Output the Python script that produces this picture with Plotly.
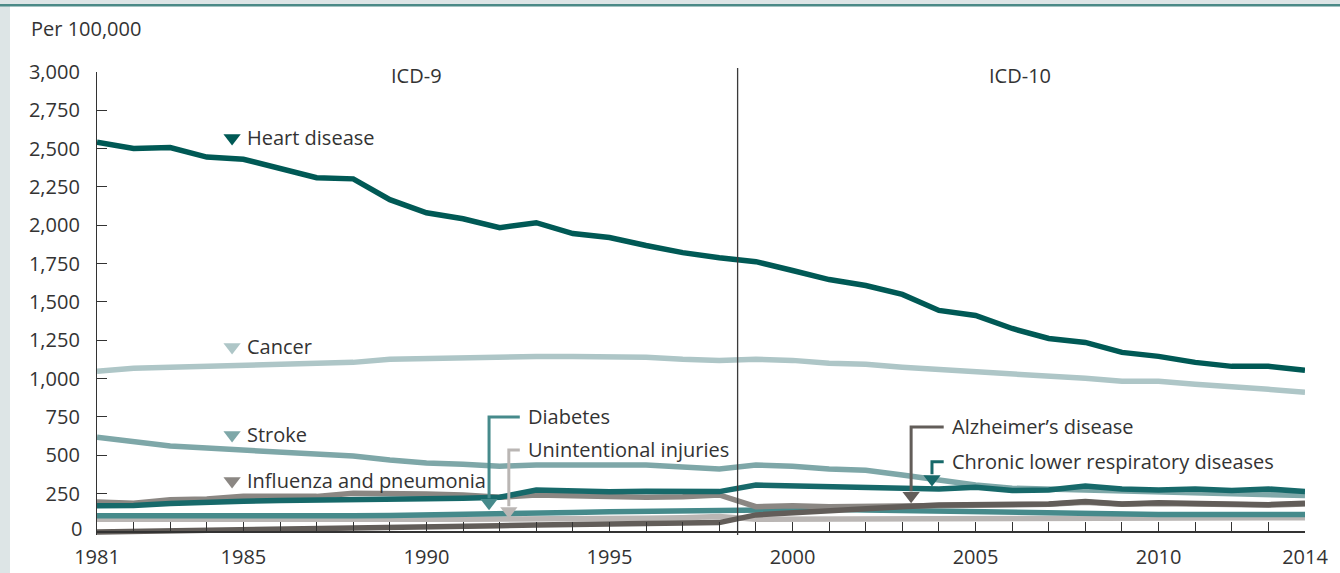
import plotly.graph_objects as go

# ---------------- data (per 100,000, ages 65+) ----------------
years = list(range(1981, 2015))

heart_disease = [2542, 2501, 2507, 2445, 2431, 2369, 2310, 2303, 2167, 2082,
                 2043, 1985, 2017, 1946, 1920, 1868, 1822, 1789, 1763, 1705,
                 1646, 1607, 1549, 1445, 1412, 1327, 1262, 1236, 1171, 1145,
                 1106, 1080, 1080, 1054]
cancer = [1048, 1067, 1074, 1080, 1087, 1100, 1100, 1106, 1126, 1132,
          1139, 1139, 1145, 1145, 1145, 1139, 1126, 1119, 1126, 1119,
          1100, 1093, 1074, 1061, 1048, 1028, 1015, 1002, 983, 983,
          963, 950, 930, 911]
stroke = [618, 586, 560, 547, 534, 514, 501, 495, 469, 449,
          442, 429, 436, 436, 442, 436, 423, 410, 436, 429,
          410, 403, 372, 339, 306, 285, 280, 275, 263, 258,
          252, 247, 241, 237]
clrd = [171, 172, 185, 195, 200, 205, 210, 215, 215, 216,
        220, 226, 274, 268, 262, 266, 268, 263, 306, 302,
        296, 296, 291, 280, 291, 270, 274, 300, 280, 274,
        280, 270, 280, 263]
influenza = [196, 187, 210, 215, 232, 236, 232, 252, 245, 247,
             241, 226, 241, 236, 226, 226, 230, 241, 165, 170,
             165, 168, 170, 172, 176, 178, 180, 193, 180, 186,
             183, 180, 175, 183]
alzheimers = [0, 3, 6, 10, 14, 18, 22, 26, 29, 32,
              36, 41, 46, 48, 51, 54, 57, 61, 111, 126,
              133, 148, 165, 176, 180, 180, 183, 198, 183, 191,
              187, 183, 178, 187]
diabetes = [105, 104, 104, 104, 105, 105, 105, 106, 108, 110,
            112, 115, 120, 126, 131, 133, 136, 139, 143, 148,
            148, 143, 139, 137, 130, 122, 120, 118, 116, 114,
            114, 114, 114, 114]
unintentional = [83, 82, 82, 82, 82, 82, 82, 83, 83, 83,
                 83, 83, 84, 86, 89, 90, 93, 100, 83, 84,
                 85, 86, 87, 88, 89, 89, 90, 90, 90, 91,
                 92, 92, 93, 93]

x_tick_labels = ["1981", "1985", "1990", "1995", "2000", "2005", "2010", "2014"]
y_tick_values = list(range(0, 3001, 250))

ICD_BREAK = 1998.5

# ---------------- styling ----------------
FONT = "Open Sans"
TXT = "#333333"
FS = 20

C_HEART = "#005955"
C_CANCER = "#aec6c7"
C_STROKE = "#7ea7a8"
C_CLRD = "#17696a"
C_INFL = "#8b8783"
C_ALZ = "#625d59"
C_DIAB = "#468a8b"
C_UNINT = "#bab6b4"

W, H = 1340, 573
ML, MR, MT, MB = 97, 35, 72, 38
Y_MIN, Y_MAX = -20, 3000


def px_x(px):
    return (px - ML) / (W - ML - MR)


def px_y(py):
    return (H - MB - py) / (H - MT - MB)


fig = go.Figure()

series = [
    ("Unintentional injuries", unintentional, C_UNINT),
    ("Diabetes", diabetes, C_DIAB),
    ("Influenza and pneumonia", influenza, C_INFL),
    ("Alzheimer's disease", alzheimers, C_ALZ),
    ("Stroke", stroke, C_STROKE),
    ("Chronic lower respiratory diseases", clrd, C_CLRD),
    ("Cancer", cancer, C_CANCER),
    ("Heart disease", heart_disease, C_HEART),
]
for name, vals, col in series:
    fig.add_trace(go.Scatter(x=years, y=vals, mode="lines", name=name,
                             line=dict(color=col, width=5.5), hoverinfo="x+y+name"))

# ---------------- inline labels with triangles ----------------
label_year = 1984.69
text_year = 1985.05
inline_labels = [
    ("Heart disease", 2570, C_HEART),
    ("Cancer", 1207, C_CANCER),
    ("Stroke", 633, C_STROKE),
    ("Influenza and pneumonia", 333, C_INFL),
]
fig.add_trace(go.Scatter(
    x=[label_year] * len(inline_labels),
    y=[v for _, v, _ in inline_labels],
    mode="markers",
    marker=dict(symbol="triangle-down", size=15,
                color=[c for _, _, c in inline_labels], line=dict(width=0)),
    hoverinfo="skip", showlegend=False, cliponaxis=False))
for txt, v, _ in inline_labels:
    fig.add_annotation(x=text_year, y=v, text=txt, showarrow=False,
                       xanchor="left", yanchor="middle",
                       font=dict(family=FONT, size=FS, color=TXT))

# ---------------- elbow callouts ----------------
# (text, text year, text value, elbow year, arrow-head value, colour)
callouts = [
    ("Diabetes", 1992.72, 750, 1991.71, 190, C_DIAB),
    ("Unintentional injuries", 1992.72, 535, 1992.25, 137, C_UNINT),
    ("Alzheimer\u2019s disease", 2004.30, 685, 2003.24, 236, C_ALZ),
    ("Chronic lower respiratory diseases", 2004.30, 457, 2003.81, 346, C_CLRD),
]
for txt, tx, ty, ex, ay, col in callouts:
    fig.add_shape(type="path",
                  path=f"M {tx - 0.17},{ty} L {ex},{ty} L {ex},{ay + 30}",
                  line=dict(color=col, width=3), xref="x", yref="y")
    fig.add_annotation(x=tx, y=ty, text=txt, showarrow=False,
                       xanchor="left", yanchor="middle",
                       font=dict(family=FONT, size=FS, color=TXT))
fig.add_trace(go.Scatter(
    x=[c[3] for c in callouts], y=[c[4] for c in callouts], mode="markers",
    marker=dict(symbol="triangle-down", size=15,
                color=[c[5] for c in callouts], line=dict(width=0)),
    hoverinfo="skip", showlegend=False, cliponaxis=False))

# ---------------- ICD break ----------------
fig.add_shape(type="line", x0=ICD_BREAK, x1=ICD_BREAK, y0=0, y1=px_y(68),
              xref="x", yref="paper", line=dict(color="#3a3a3a", width=1.3))
fig.add_annotation(x=1989.74, y=px_y(75), yref="paper", text="ICD-9",
                   showarrow=False, xanchor="center", yanchor="middle",
                   font=dict(family=FONT, size=FS, color=TXT))
fig.add_annotation(x=2006.21, y=px_y(75), yref="paper", text="ICD-10",
                   showarrow=False, xanchor="center", yanchor="middle",
                   font=dict(family=FONT, size=FS, color=TXT))

# "Per 100,000"
fig.add_annotation(x=px_x(29), y=px_y(28), xref="paper", yref="paper",
                   text="Per 100,000", showarrow=False, xanchor="left",
                   yanchor="middle", font=dict(family=FONT, size=FS, color=TXT))

# zero label sits slightly above the axis in the reference
fig.add_annotation(x=px_x(84), y=px_y(528), xref="paper", yref="paper",
                   text="0", showarrow=False, xanchor="right",
                   yanchor="middle", font=dict(family=FONT, size=FS, color=TXT))

# frame decoration (light border at left/top, teal rule)
fig.add_shape(type="rect", xref="paper", yref="paper", x0=px_x(0), x1=px_x(10),
              y0=px_y(H), y1=px_y(0), fillcolor="#dde5e6", line=dict(width=0),
              layer="below")
fig.add_shape(type="rect", xref="paper", yref="paper", x0=px_x(0), x1=px_x(W),
              y0=px_y(4), y1=px_y(0), fillcolor="#dde5e6", line=dict(width=0),
              layer="below")
fig.add_shape(type="rect", xref="paper", yref="paper", x0=px_x(0), x1=px_x(W),
              y0=px_y(6.5), y1=px_y(4), fillcolor="#4b8a87", line=dict(width=0),
              layer="below")

fig.update_layout(
    width=W, height=H, autosize=False,
    margin=dict(l=ML, r=MR, t=MT, b=MB, pad=0, autoexpand=False),
    paper_bgcolor="white", plot_bgcolor="white",
    showlegend=False,
    font=dict(family=FONT, size=FS, color=TXT),
    xaxis=dict(
        range=[1981, 2014], anchor="free", position=-Y_MIN / (Y_MAX - Y_MIN),
        automargin=False,
        tickvals=years,
        ticktext=[str(y) if str(y) in x_tick_labels else "" for y in years],
        ticks="inside", ticklen=9, tickwidth=1.2, tickcolor="#333333",
        showline=True, linecolor="#333333", linewidth=2,
        showgrid=False, zeroline=False, ticklabelstandoff=7,
        tickfont=dict(family=FONT, size=FS, color=TXT),
    ),
    yaxis=dict(
        range=[Y_MIN, Y_MAX], tickvals=y_tick_values, automargin=False,
        ticktext=["" if v == 0 else f"{v:,}" for v in y_tick_values],
        ticks="inside", ticklen=10, tickwidth=1.2, tickcolor="#333333",
        showline=True, linecolor="#333333", linewidth=1.3,
        showgrid=False, zeroline=False, ticklabelstandoff=12,
        tickfont=dict(family=FONT, size=FS, color=TXT),
    ),
)

fig.write_html("out.html",
               config={"displayModeBar": False},
               post_script="document.body.style.margin='0';"
                           "document.body.style.overflow='hidden';")
